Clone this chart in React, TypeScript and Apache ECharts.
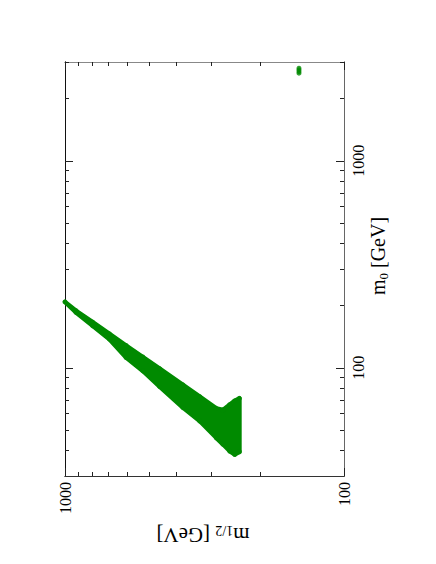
import React, { useEffect, useRef } from "react";
import * as echarts from "echarts";

// m_{1/2} [GeV] (horizontal, inverse log axis) and m_0 [GeV] (vertical log axis)
// Outline of the allowed band
const m12UpperEdge = [1000, 913, 796, 693, 604, 526, 458, 378, 329, 287, 271.5, 257, 246.5, 237];
const m0UpperEdge = [208, 188.6, 166, 145.8, 128.1, 112.7, 99, 82.7, 72.6, 63.7, 62.5, 66.3, 69.2, 71.2];
const m12LowerEdge = [237, 246.5, 257, 271.5, 287, 329, 378, 458, 526, 604, 693, 796, 913];
const m0LowerEdge = [39.3, 38.1, 39.6, 42.7, 45.9, 55.3, 64.2, 81.1, 96.6, 112, 137.4, 159.6, 185];
// Isolated points at large m_0
const m12Cluster = [145, 145, 145, 145];
const m0Cluster = [2650, 2700, 2750, 2800];

const xMajorTicks = [100, 1000];
const xMinorTicks = [200, 300, 400, 500, 600, 700, 800, 900];
const yMajorTicks = [100, 1000];
const yMinorTicks = [40, 50, 60, 70, 80, 90, 200, 300, 400, 500, 600, 700, 800, 900, 2000, 3000];

const GREEN = "#008a00";
const FONT = "Liberation Serif";

export default function App() {
  const ref = useRef<HTMLDivElement>(null);
  useEffect(() => {
    if (!ref.current) return;
    const chart = echarts.init(ref.current, null, { renderer: "svg" });

    const boundary: number[][] = [];
    m12UpperEdge.forEach((v, i) => boundary.push([v, m0UpperEdge[i]]));
    m12LowerEdge.forEach((v, i) => boundary.push([v, m0LowerEdge[i]]));
    const cluster = m12Cluster.map((v, i) => [v, m0Cluster[i]]);

    const xBase = (pos: string, ticks: number[], len: number, color: string, labels: boolean) => ({
      type: "log",
      logBase: 10,
      min: 100,
      max: 1000,
      inverse: true,
      position: pos,
      axisLine: { show: true, lineStyle: { color, width: 1 } },
      axisTick: { show: true, inside: true, length: len, customValues: ticks, lineStyle: { color: "#222" } },
      axisLabel: labels
        ? {
            show: true,
            customValues: xMajorTicks,
            rotate: 90,
            margin: 6,
            fontFamily: FONT,
            fontSize: 16,
            color: "#000",
            formatter: (v: number) => String(Math.round(v)),
          }
        : { show: false },
      splitLine: { show: false },
    });
    const yBase = (pos: string, ticks: number[], len: number, color: string, labels: boolean) => ({
      type: "log",
      logBase: 10,
      min: 30,
      max: 3000,
      position: pos,
      axisLine: { show: true, lineStyle: { color, width: 1 } },
      axisTick: { show: true, inside: true, length: len, customValues: ticks, lineStyle: { color: "#222" } },
      axisLabel: labels
        ? {
            show: true,
            customValues: yMajorTicks,
            rotate: 90,
            margin: 6,
            fontFamily: FONT,
            fontSize: 16,
            color: "#000",
            formatter: (v: number) => String(Math.round(v)),
          }
        : { show: false },
      splitLine: { show: false },
    });

    chart.setOption({
      animation: false,
      backgroundColor: "#fff",
      grid: { left: 65, right: 92, top: 62, bottom: 88, containLabel: false },
      xAxis: [
        xBase("bottom", xMajorTicks, 8, "#333", true),
        xBase("bottom", xMinorTicks, 4, "#333", false),
        xBase("top", xMajorTicks, 8, "#888", false),
        xBase("top", xMinorTicks, 4, "#888", false),
      ],
      yAxis: [
        yBase("right", yMajorTicks, 8, "#666", true),
        yBase("right", yMinorTicks, 4, "#666", false),
        yBase("left", yMajorTicks, 8, "#111", false),
        yBase("left", yMinorTicks, 4, "#111", false),
      ],
      series: [
        {
          type: "custom",
          coordinateSystem: "cartesian2d",
          xAxisIndex: 0,
          yAxisIndex: 0,
          data: boundary,
          clip: false,
          silent: true,
          renderItem: (params: any, api: any) => {
            if (params.dataIndex !== 0) return null;
            const pts = boundary.map((p) => api.coord(p));
            return {
              type: "polygon",
              shape: { points: pts },
              style: { fill: GREEN, stroke: GREEN, lineWidth: 4.5, lineJoin: "round" },
            };
          },
        },
        {
          type: "scatter",
          xAxisIndex: 0,
          yAxisIndex: 0,
          data: boundary,
          symbol: "circle",
          symbolSize: 5,
          clip: false,
          itemStyle: { color: GREEN },
        },
        {
          type: "scatter",
          xAxisIndex: 0,
          yAxisIndex: 0,
          data: cluster,
          symbol: "circle",
          symbolSize: 5,
          clip: false,
          itemStyle: { color: GREEN },
        },
      ],
      graphic: [
        {
          type: "text",
          x: 378,
          y: 256,
          rotation: Math.PI / 2,
          style: {
            text: "{m|m}{s|0}{m| [GeV]}",
            align: "center",
            verticalAlign: "middle",
            fill: "#000",
            rich: {
              m: { fontFamily: FONT, fontSize: 20, fill: "#000" },
              s: { fontFamily: FONT, fontSize: 13, fill: "#000", padding: [10, 0, 0, 0] },
            },
          },
        },
        {
          type: "text",
          x: 203,
          y: 535,
          rotation: Math.PI,
          style: {
            text: "{m|m}{s|1/2}{m| [GeV]}",
            align: "center",
            verticalAlign: "middle",
            fill: "#000",
            rich: {
              m: { fontFamily: FONT, fontSize: 21, fill: "#000" },
              s: { fontFamily: FONT, fontSize: 14, fill: "#000", padding: [10, 0, 0, 0] },
            },
          },
        },
      ],
    });
    return () => chart.dispose();
  }, []);
  return <div ref={ref} style={{ position: "fixed", left: 0, top: 0, width: 436, height: 564 }} />;
}
